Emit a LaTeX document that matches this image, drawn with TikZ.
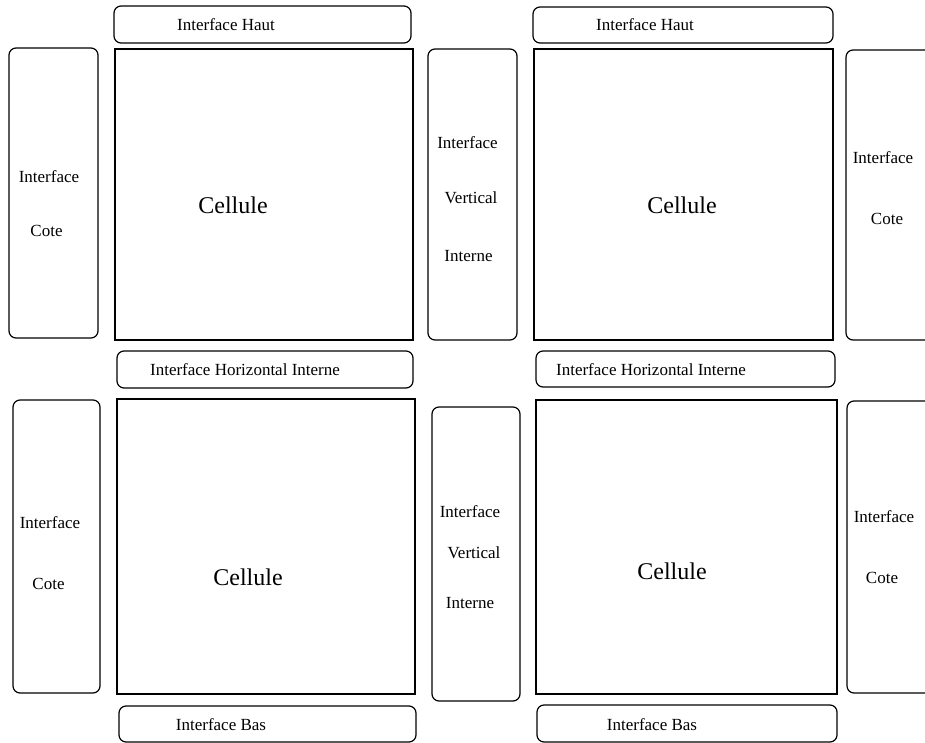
\documentclass[tikz,border=0pt]{standalone}
\usepackage{fontspec}
\setmainfont{Liberation Serif}
\begin{document}
\begin{tikzpicture}[x=1pt,y=-1pt,
  iface/.style={draw=black, line width=1.2pt, rounded corners=7pt, inner sep=0pt},
  cellbox/.style={draw=black, line width=1.2pt, inner sep=0pt},
  lbl/.style={inner sep=0pt, font=\fontsize{17}{19}\selectfont},
  big/.style={inner sep=0pt, font=\fontsize{24}{28}\selectfont}]
\useasboundingbox (0,0) rectangle (925,743);
% top row
\node[iface, minimum width=297pt, minimum height=37pt] (hautL) at (262.5,24.5) {};
\node[iface, minimum width=300pt, minimum height=36pt] (hautR) at (683,25) {};
\node[iface, minimum width=89pt, minimum height=290pt] (coteTL) at (53.5,193) {};
\node[cellbox, minimum width=298pt, minimum height=291pt] (cellTL) at (264,194.5) {};
\node[iface, minimum width=89pt, minimum height=291pt] (vertT) at (472.5,194.5) {};
\node[cellbox, minimum width=299pt, minimum height=291pt] (cellTR) at (683.5,194.5) {};
\node[iface, minimum width=89pt, minimum height=290pt] (coteTR) at (890.5,195) {};
\node[iface, minimum width=296pt, minimum height=37pt] (horizL) at (265,369.5) {};
\node[iface, minimum width=299pt, minimum height=36pt] (horizR) at (685.5,369) {};
% bottom row
\node[iface, minimum width=87pt, minimum height=293pt] (coteBL) at (56.5,546.5) {};
\node[cellbox, minimum width=298pt, minimum height=295pt] (cellBL) at (266,546.5) {};
\node[iface, minimum width=88pt, minimum height=294pt] (vertB) at (476,554) {};
\node[cellbox, minimum width=301pt, minimum height=294pt] (cellBR) at (686.5,547) {};
\node[iface, minimum width=89pt, minimum height=292pt] (coteBR) at (891.5,547) {};
\node[iface, minimum width=297pt, minimum height=36pt] (basL) at (267.5,724) {};
\node[iface, minimum width=300pt, minimum height=37pt] (basR) at (687,723.5) {};
% labels top
\node[lbl] (tHautL) at (226,25) {Interface Haut};
\node[lbl] (tHautR) at (645,25) {Interface Haut};
\node[lbl] (tCoteTL1) at (49,177) {Interface};
\node[lbl] (tCoteTL2) at (46.5,231) {Cote};
\node[big] (tCellTL) at (233,205) {Cellule};
\node[lbl] (tVertT1) at (467.5,143) {Interface};
\node[lbl] (tVertT2) at (471,198) {Vertical};
\node[lbl] (tVertT3) at (468.5,256) {Interne};
\node[big] (tCellTR) at (682,205) {Cellule};
\node[lbl] (tCoteTR1) at (883,158) {Interface};
\node[lbl] (tCoteTR2) at (887,219) {Cote};
\node[lbl] (tHorizL) at (245,370) {Interface Horizontal Interne};
\node[lbl] (tHorizR) at (651,370) {Interface Horizontal Interne};
% labels bottom
\node[lbl] (tCoteBL1) at (50,523) {Interface};
\node[lbl] (tCoteBL2) at (48.5,584) {Cote};
\node[big] (tCellBL) at (248,577) {Cellule};
\node[lbl] (tVertB1) at (470,512) {Interface};
\node[lbl] (tVertB2) at (474,553) {Vertical};
\node[lbl] (tVertB3) at (470,603) {Interne};
\node[big] (tCellBR) at (672,571) {Cellule};
\node[lbl] (tCoteBR1) at (884,517) {Interface};
\node[lbl] (tCoteBR2) at (882,578) {Cote};
\node[lbl] (tBasL) at (221,725) {Interface Bas};
\node[lbl] (tBasR) at (652,725) {Interface Bas};
\end{tikzpicture}
\end{document}
